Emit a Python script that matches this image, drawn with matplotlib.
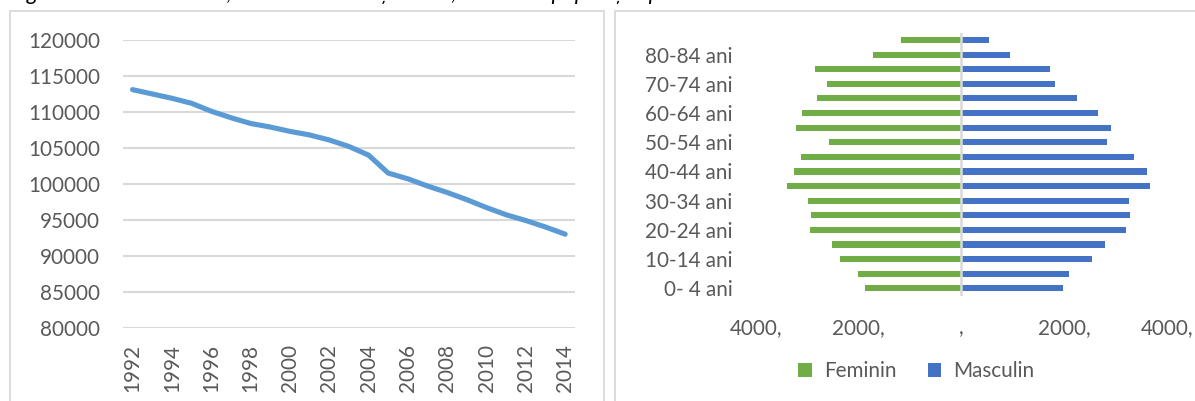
import matplotlib
matplotlib.use('Agg')
import matplotlib.pyplot as plt
from matplotlib.patches import Rectangle, Patch

# ---------------- data ----------------
years = list(range(1992, 2015))
population = [113100, 112500, 111900, 111200, 110100, 109200, 108400, 107900,
              107300, 106800, 106100, 105200, 104000, 101500, 100700, 99700,
              98800, 97800, 96700, 95700, 94900, 94000, 93000]
year_labels = [str(y) for y in range(1992, 2015, 2)]

age_groups = ['0- 4 ani', '5- 9 ani', '10-14 ani', '15-19 ani', '20-24 ani',
              '25-29 ani', '30-34 ani', '35-39 ani', '40-44 ani', '45-49 ani',
              '50-54 ani', '55-59 ani', '60-64 ani', '65-69 ani', '70-74 ani',
              '75-79 ani', '80-84 ani', '85+ ani']
masculin = [1980, 2090, 2550, 2800, 3200, 3290, 3260, 3680, 3610, 3360,
            2840, 2910, 2670, 2250, 1820, 1720, 940, 530]
feminin = [1870, 2020, 2360, 2510, 2940, 2930, 2980, 3390, 3260, 3120,
           2580, 3210, 3110, 2810, 2620, 2840, 1710, 1180]
pyr_ticks = [-4000, -2000, 0, 2000, 4000]
pyr_tick_labels = ['4000,', '2000,', ',', '2000,', '4000,']

caption = 'Figura 1. Numărul total, între anii 1992 și 2014, structura populației pe sexe'

# ---------------- style ----------------
plt.rcParams['font.family'] = ['Lato', 'DejaVu Sans']
TXT = '#595959'
GRID = '#D9D9D9'
FS = 14.9
W, H = 1195, 401

fig = plt.figure(figsize=(W / 100, H / 100), dpi=100)

def px_axes(x0, y0, x1, y1):
    return fig.add_axes([x0 / W, 1 - y1 / H, (x1 - x0) / W, (y1 - y0) / H])

# panel borders
for (x0, y0, x1, y1) in [(10, 11, 604, 420), (615, 11, 1210, 420)]:
    fig.add_artist(Rectangle((x0 / W, 1 - y1 / H), (x1 - x0) / W, (y1 - y0) / H,
                             transform=fig.transFigure, fill=False,
                             edgecolor=GRID, linewidth=1.3, clip_on=False))

# caption, clipped at the top edge as in the source image
fig.text(10 / W, 1 - 0.5 / H, caption, fontsize=16, style='italic', color='black',
         ha='left', va='baseline')

# ---------------- left: line chart ----------------
ax1 = px_axes(122.7, 40, 575, 327.7)
ax1.plot(years, population, color='#5B9BD5', linewidth=3.7,
         solid_capstyle='round', solid_joinstyle='round', zorder=3)
ax1.set_xlim(1991.5, 2014.5)
ax1.set_ylim(80000, 120000)
ax1.set_yticks(range(80000, 120001, 5000))
ax1.set_yticklabels([str(v) for v in range(80000, 120001, 5000)])
ax1.set_xticks(range(1992, 2015, 2))
ax1.set_xticklabels(year_labels, rotation=90)
ax1.grid(axis='y', color=GRID, linewidth=1.5)
ax1.set_axisbelow(True)
for s in ax1.spines.values():
    s.set_visible(False)
ax1.tick_params(axis='y', length=0, pad=16.5, labelsize=FS, labelcolor=TXT)
ax1.tick_params(axis='x', length=0, pad=11.5, labelsize=FS, labelcolor=TXT)

# ---------------- right: pyramid ----------------
ax2 = px_axes(755.9, 32.7, 1166.7, 295.6)
pos = list(range(len(age_groups)))
ax2.barh(pos, [-v for v in feminin], height=0.42, color='#70AD47', zorder=2)
ax2.barh(pos, masculin, height=0.42, color='#4472C4', zorder=2)
ax2.axvline(0, color=GRID, linewidth=1.8, zorder=3)
ax2.set_xlim(-4000, 4000)
ax2.set_ylim(-0.5, len(age_groups) - 0.5)
ax2.set_yticks(pos[::2])
ax2.set_yticklabels(age_groups[::2])
ax2.set_xticks(pyr_ticks)
ax2.set_xticklabels(pyr_tick_labels)
for s in ax2.spines.values():
    s.set_visible(False)
ax2.tick_params(axis='y', length=0, pad=17, labelsize=FS, labelcolor=TXT)
ax2.tick_params(axis='x', length=0, pad=16, labelsize=FS, labelcolor=TXT)

handles = [Patch(facecolor='#70AD47', label='Feminin'),
           Patch(facecolor='#4472C4', label='Masculin')]
fig.legend(handles=handles, loc='center', bbox_to_anchor=(916.5 / W, 1 - 371 / H),
           ncol=2, frameon=False, fontsize=FS, labelcolor=TXT,
           handlelength=0.65, handleheight=0.65, handletextpad=0.6,
           columnspacing=1.5)

fig.savefig('out.png', dpi=100)
